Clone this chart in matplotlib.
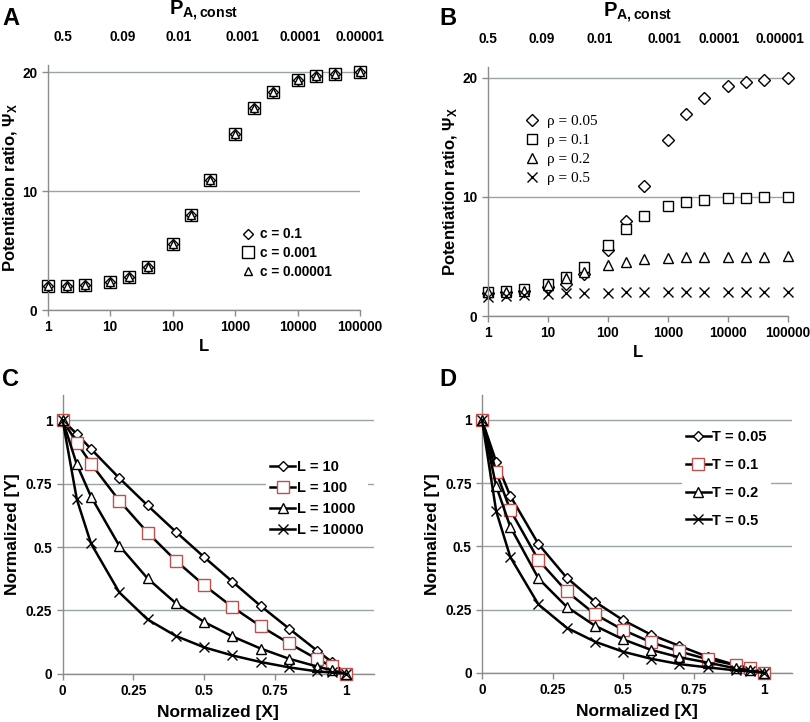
import matplotlib
matplotlib.use("Agg")
import matplotlib.pyplot as plt
import numpy as np

plt.rcParams["font.family"] = ["Liberation Sans", "DejaVu Sans"]
plt.rcParams["font.weight"] = "bold"
plt.rcParams["mathtext.fontset"] = "custom"
plt.rcParams["mathtext.rm"] = "Liberation Sans:bold"
plt.rcParams["mathtext.it"] = "Liberation Serif"
plt.rcParams["mathtext.bf"] = "Liberation Sans:bold"

# ---- data -----------------------------------------------------------------
L_VALUES = [1, 2, 4, 10, 20, 40, 100, 200, 400, 1000, 2000, 4000,
            10000, 20000, 40000, 100000]
P_LABELS = ["0.5", "0.09", "0.01", "0.001", "0.0001", "0.00001"]

# panel A: potentiation ratio for three c values
PSI_C_01 = [2.0, 2.04, 2.13, 2.38, 2.8, 3.59, 5.55, 7.96, 10.95, 14.8,
            16.97, 18.35, 19.33, 19.66, 19.86, 20.0]
PSI_C_0001 = [2.0, 2.04, 2.13, 2.38, 2.8, 3.59, 5.55, 7.96, 10.95, 14.8,
              16.97, 18.35, 19.33, 19.66, 19.86, 20.0]
PSI_C_000001 = [2.0, 2.04, 2.13, 2.38, 2.8, 3.59, 5.55, 7.96, 10.95, 14.8,
                16.97, 18.35, 19.33, 19.66, 19.86, 20.0]

# panel B: potentiation ratio for four rho values
PSI_RHO_005 = [1.96, 2.0, 2.1, 2.46, 2.7, 3.5, 5.5, 7.97, 10.9, 14.8,
               16.95, 18.3, 19.3, 19.6, 19.8, 20.0]
PSI_RHO_01 = [2.0, 2.1, 2.24, 2.7, 3.25, 4.1, 5.95, 7.3, 8.35, 9.2,
              9.55, 9.76, 9.9, 9.93, 9.96, 10.0]
PSI_RHO_02 = [1.98, 2.02, 2.1, 2.6, 3.2, 3.7, 4.3, 4.5, 4.75, 4.9,
              4.92, 4.95, 4.97, 4.98, 4.99, 5.0]
PSI_RHO_05 = [1.6, 1.7, 1.76, 1.85, 1.9, 1.93, 1.96, 1.98, 1.99, 2.0,
              2.0, 2.0, 2.0, 2.0, 2.0, 2.0]

# panels C and D: normalized curves
NORM_X = [0, 0.05, 0.1, 0.2, 0.3, 0.4, 0.5, 0.6, 0.7, 0.8, 0.9, 0.95, 1]
Y_L10 = [1, 0.946, 0.887, 0.772, 0.664, 0.56, 0.46, 0.363, 0.267, 0.178,
         0.09, 0.047, 0]
Y_L100 = [1, 0.912, 0.829, 0.683, 0.557, 0.446, 0.349, 0.263, 0.187, 0.12,
          0.057, 0.03, 0]
Y_L1000 = [1, 0.826, 0.699, 0.505, 0.376, 0.278, 0.204, 0.147, 0.099,
           0.059, 0.028, 0.014, 0]
Y_L10000 = [1, 0.688, 0.514, 0.321, 0.214, 0.149, 0.104, 0.072, 0.046,
            0.025, 0.009, 0.005, 0]
Y_T005 = [1, 0.835, 0.70, 0.509, 0.376, 0.281, 0.208, 0.150, 0.106, 0.063,
          0.03, 0.017, 0]
Y_T01 = [1, 0.795, 0.644, 0.446, 0.322, 0.232, 0.169, 0.12, 0.084, 0.053,
         0.03, 0.017, 0]
Y_T02 = [1, 0.739, 0.578, 0.373, 0.261, 0.186, 0.132, 0.09, 0.061, 0.04,
         0.017, 0.01, 0]
Y_T05 = [1, 0.64, 0.458, 0.27, 0.178, 0.123, 0.083, 0.055, 0.034, 0.021,
         0.009, 0.005, 0]

GRID = "#9aa3a8"
SPINE = "#8c8c8c"
RED = "#c0504d"
TICK_SIZE = 9.8


def style_axes(ax):
    for side in ("top", "right"):
        ax.spines[side].set_visible(False)
    for side in ("left", "bottom"):
        ax.spines[side].set_color(SPINE)
        ax.spines[side].set_linewidth(1.0)
    ax.tick_params(axis="both", colors=SPINE, length=4, width=1.0,
                   labelcolor="black", labelsize=TICK_SIZE, direction="out")
    ax.yaxis.grid(True, color=GRID, lw=1.0)
    ax.set_axisbelow(True)
    for lab in ax.get_xticklabels() + ax.get_yticklabels():
        lab.set_fontweight("bold")


def top_panel(ax, top_pos, top_ylim):
    ax.set_xscale("log")
    ax.set_xlim(1, 1e5)
    ax.set_ylim(0, top_ylim)
    ax.set_xticks([1, 10, 100, 1000, 10000, 100000])
    ax.set_xticklabels(["1", "10", "100", "1000", "10000", "100000"])
    ax.xaxis.set_minor_locator(matplotlib.ticker.NullLocator())
    ax.set_yticks([0, 10, 20])
    ax.set_xlabel("L", fontsize=12, fontweight="bold", labelpad=3)
    ax.set_ylabel(r"Potentiation ratio, $\mathit{\Psi}_{\mathrm{X}}$",
                  fontsize=12, fontweight="bold", labelpad=2)
    style_axes(ax)
    ax.xaxis.grid(False)
    top = ax.twiny()
    top.set_xscale("log")
    top.set_xlim(1, 1e5)
    top.set_xticks([10 ** p for p in top_pos])
    top.set_xticklabels(P_LABELS)
    top.xaxis.set_minor_locator(matplotlib.ticker.NullLocator())
    top.tick_params(axis="x", length=0, labelsize=TICK_SIZE, pad=15)
    for lab in top.get_xticklabels():
        lab.set_fontweight("bold")
    for side in top.spines:
        top.spines[side].set_visible(False)
    top.set_xlabel(r"$\mathbf{P}_{\mathbf{A,const}}$", fontsize=14.5,
                   labelpad=11)


fig = plt.figure(figsize=(8.1, 7.22), dpi=100)
ax_a = fig.add_axes([0.0589, 0.5706, 0.3855, 0.3394])
ax_b = fig.add_axes([0.6021, 0.5623, 0.3704, 0.3454])
ax_c = fig.add_axes([0.0774, 0.0669, 0.3843, 0.3860])
ax_d = fig.add_axes([0.5951, 0.0683, 0.3830, 0.3850])

# ---- panel A ----------------------------------------------------------------
top_panel(ax_a, [0.245, 1.2, 2.1, 3.12, 4.04, 5.0], 20.59)
mk = dict(ls="none", mfc="white", mec="black", mew=1.0, clip_on=False)
ax_a.plot(L_VALUES, PSI_C_0001, marker="s", ms=8.0, label="c = 0.001", zorder=2,
          **mk)
ax_a.plot(L_VALUES, PSI_C_01, marker="D", ms=5.5, label="c = 0.1", zorder=3, **mk)
ax_a.plot(L_VALUES, PSI_C_000001, marker="^", ms=6.0, label="c = 0.00001",
          zorder=4, **mk)
h, l = ax_a.get_legend_handles_labels()
order = [1, 0, 2]
ax_a.legend([h[i] for i in order], [l[i] for i in order],
            loc="upper left", bbox_to_anchor=(0.6, 0.365), frameon=False,
            borderpad=0, handlelength=0.9, handletextpad=0.4,
            labelspacing=0.35, prop={"size": TICK_SIZE, "weight": "bold"})

# ---- panel B ----------------------------------------------------------------
top_panel(ax_b, [-0.045, 0.87, 1.84, 2.92, 3.84, 4.87], 20.92)
ax_b.plot(L_VALUES, PSI_RHO_005, marker="D", ms=6.0, label="ρ = 0.05", **mk)
ax_b.plot(L_VALUES, PSI_RHO_01, marker="s", ms=7.5, label="ρ = 0.1", **mk)
ax_b.plot(L_VALUES, PSI_RHO_02, marker="^", ms=6.5, label="ρ = 0.2", **mk)
ax_b.plot(L_VALUES, PSI_RHO_05, marker="x", ms=7.0, label="ρ = 0.5",
          ls="none", mec="black", mew=1.0, clip_on=False)
ax_b.legend(loc="upper left", bbox_to_anchor=(0.1, 0.84), frameon=False,
            borderpad=0, handlelength=0.9, handletextpad=0.5,
            labelspacing=0.35,
            prop={"family": "Liberation Serif", "size": 11, "weight": "normal"})


# ---- panels C and D ----------------------------------------------------------
def bottom_panel(ax, series, anchor, spacing):
    ax.set_xlim(0, 1.1)
    ax.set_ylim(0, 1.1)
    ax.set_xticks([0, 0.25, 0.5, 0.75, 1])
    ax.set_xticklabels(["0", "0.25", "0.5", "0.75", "1"])
    ax.set_yticks([0, 0.25, 0.5, 0.75, 1])
    ax.set_yticklabels(["0", "0.25", "0.5", "0.75", "1"])
    ax.set_xlabel("Normalized [X]", fontsize=12.5, fontweight="bold", labelpad=5)
    ax.set_ylabel("Normalized [Y]", fontsize=12.5, fontweight="bold", labelpad=4)
    style_axes(ax)
    for y, marker, ms, edge, label in series:
        ax.plot(NORM_X, y, color="black", lw=1.8, marker=marker, ms=ms,
                mfc="white" if marker != "x" else "black", mec=edge, mew=1.0,
                label=label, clip_on=False, zorder=3)
    ax.legend(loc="upper left", frameon=True, facecolor="white",
              edgecolor="none", framealpha=1.0, fancybox=False,
              handlelength=1.7, handletextpad=0.1, labelspacing=spacing,
              borderpad=0.3, prop={"size": 10.5, "weight": "bold"},
              bbox_to_anchor=anchor)


bottom_panel(ax_c, [
    (Y_L10, "D", 5.5, "black", "L = 10"),
    (Y_L100, "s", 8.0, RED, "L = 100"),
    (Y_L1000, "^", 6.5, "black", "L = 1000"),
    (Y_L10000, "x", 7.0, "black", "L = 10000"),
], (0.63, 0.81), 0.5)
bottom_panel(ax_d, [
    (Y_T005, "D", 5.5, "black", "T = 0.05"),
    (Y_T01, "s", 8.0, RED, "T = 0.1"),
    (Y_T02, "^", 6.5, "black", "T = 0.2"),
    (Y_T05, "x", 7.0, "black", "T = 0.5"),
], (0.62, 0.915), 0.95)

# ---- panel letters ------------------------------------------------------------
for x, y, letter in [(0.003, 0.99, "A"), (0.543, 0.99, "B"),
                     (0.003, 0.49, "C"), (0.543, 0.49, "D")]:
    fig.text(x, y, letter, fontsize=17, fontweight="bold", va="top", ha="left")

fig.savefig("out.png", dpi=100, facecolor="white")
